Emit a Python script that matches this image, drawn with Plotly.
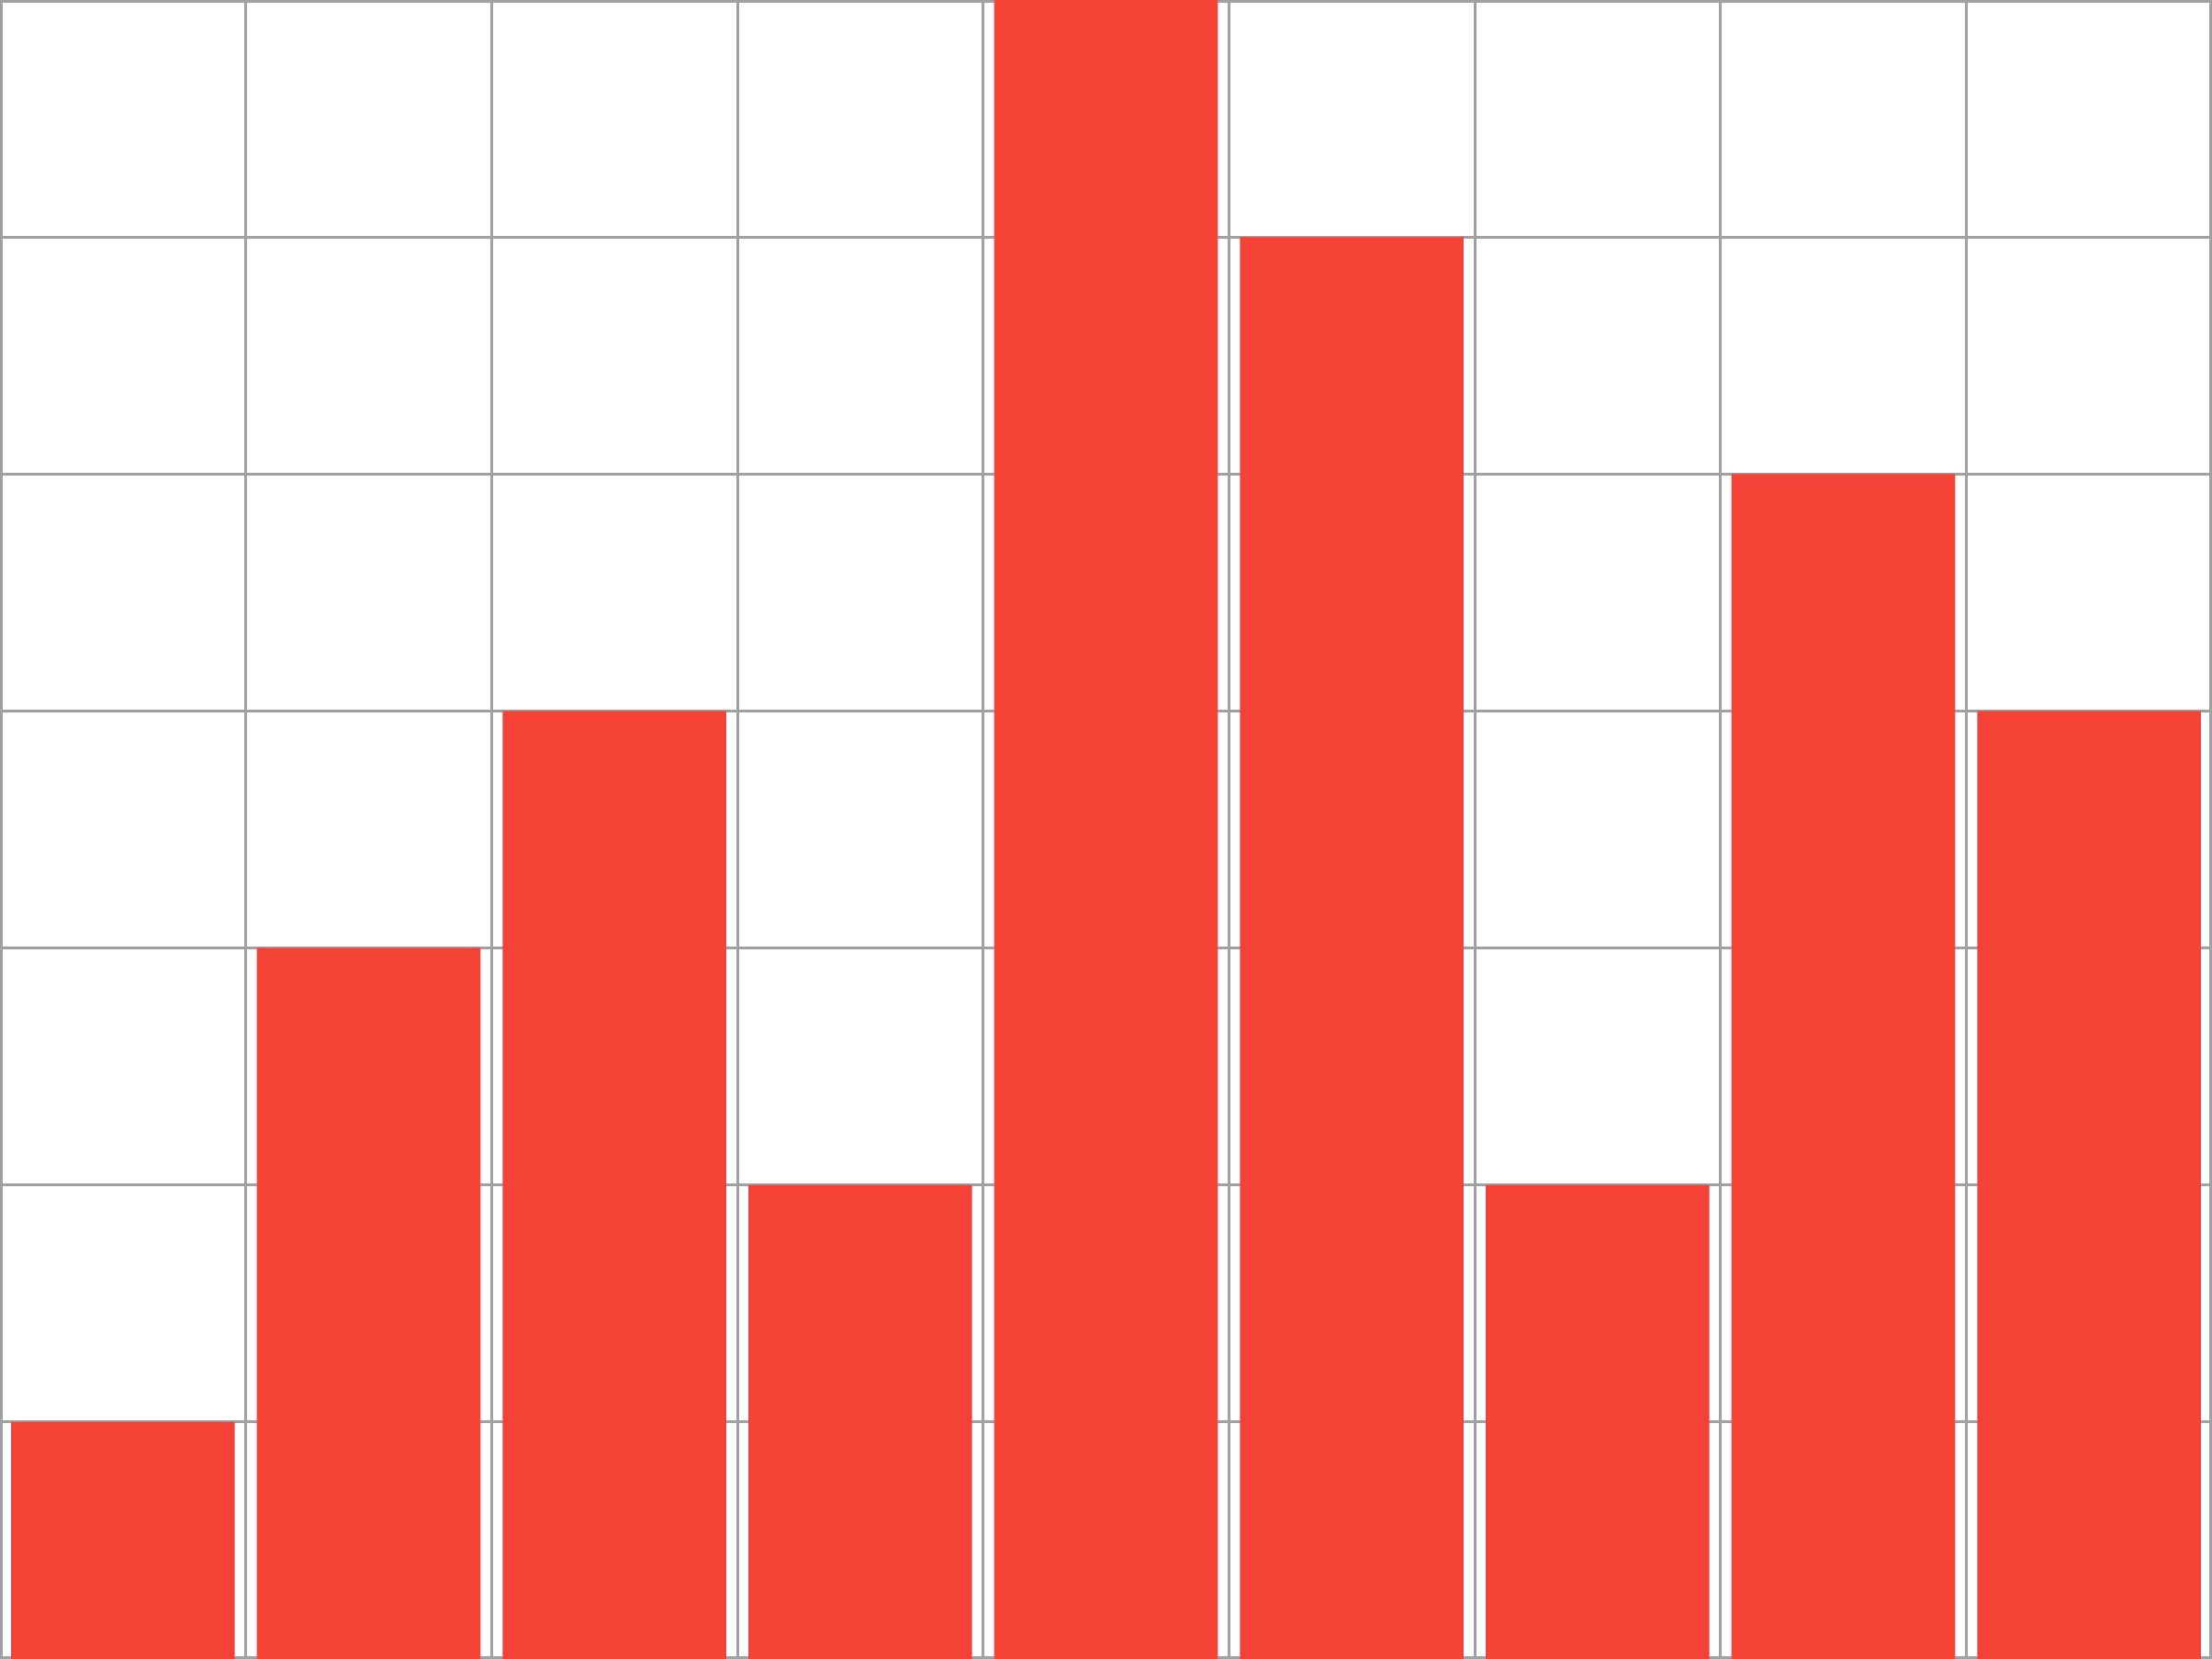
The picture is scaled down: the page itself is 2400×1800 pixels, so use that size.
import plotly.graph_objects as go

categories = ["A", "B", "C", "D", "E", "F", "G", "H", "I"]
values = [1, 3, 4, 2, 7, 6, 2, 5, 4]

BAR_COLOR = "#F44336"
GRID_COLOR = "#A0A0A0"

fig = go.Figure(
    go.Bar(x=categories, y=values, marker=dict(color=BAR_COLOR, line=dict(width=0)))
)
fig.update_layout(
    width=2400,
    height=1800,
    margin=dict(l=0, r=0, t=0, b=0, pad=0),
    paper_bgcolor="white",
    plot_bgcolor="white",
    bargap=0.09,
    showlegend=False,
    shapes=[
        dict(
            type="rect",
            xref="paper",
            yref="paper",
            x0=0,
            y0=0,
            x1=1,
            y1=1,
            line=dict(color=GRID_COLOR, width=6),
            fillcolor="rgba(0,0,0,0)",
            layer="between",
        )
    ],
)
fig.update_xaxes(
    type="category",
    tickson="boundaries",
    showgrid=True,
    gridcolor=GRID_COLOR,
    gridwidth=3,
    showticklabels=False,
    ticks="",
    showline=False,
    range=[-0.5, 8.5],
)
fig.update_yaxes(
    range=[0, 7],
    dtick=1,
    showgrid=True,
    gridcolor=GRID_COLOR,
    gridwidth=3,
    showticklabels=False,
    ticks="",
    zeroline=False,
    showline=False,
)
fig.write_html("out.html")
